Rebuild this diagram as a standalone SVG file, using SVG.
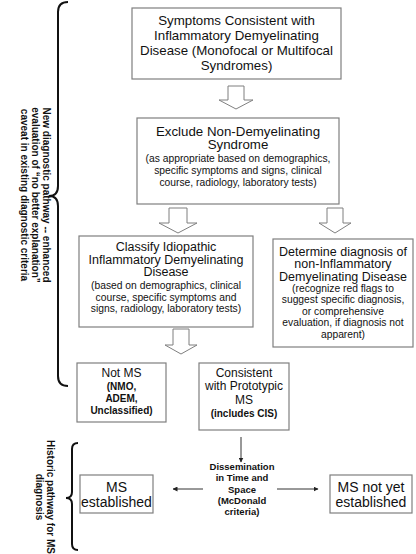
<svg xmlns="http://www.w3.org/2000/svg" width="416" height="554" viewBox="0 0 416 554">
<defs>
<marker id="ah" viewBox="0 0 10 10" refX="9" refY="5" markerWidth="5" markerHeight="5" orient="auto" markerUnits="userSpaceOnUse"><path d="M0,0 L10,5 L0,10 z" fill="#222"/></marker>
</defs>
<style>
text{font-family:"Liberation Sans",Arial,sans-serif;fill:#111;text-anchor:middle}
.box{fill:#fff;stroke:#7f7f7f;stroke-width:1.2}
.hol{fill:#fff;stroke:#7f7f7f;stroke-width:1}
.t13{font-size:13.3px}
.t125{font-size:12.5px}
.t12{font-size:12px}
.t14{font-size:14px}
.s10{font-size:10.3px}
.b10{font-size:10px;font-weight:bold}
.b95{font-size:9.5px;font-weight:bold}
.brace{fill:none;stroke:#111;stroke-width:2}
.thin{stroke:#333;stroke-width:1;fill:none}
</style>
<rect width="416" height="554" fill="#fff"/>
<g id="side-labels">
<path class="brace" d="M68,2 Q58,2 58,12 L58,186 Q58,196 49,196 Q58,196 58,206 L58,376 Q58,386 68,386"/>
<g transform="translate(0,195)">
<text class="b10" transform="translate(43,0) rotate(90)">New diagnostic pathway -- enhanced</text>
<text class="b10" transform="translate(32,0) rotate(90)">evaluation of “no better explanation”</text>
<text class="b10" transform="translate(21,0) rotate(90)">caveat in existing diagnostic criteria</text>
</g>
<path class="brace" d="M78,443 Q72,443 72,449 L72,492 Q72,498 66,498 Q72,498 72,504 L72,544 Q72,550 78,550"/>
<g transform="translate(0,497)">
<text class="b10" transform="translate(46.5,0) rotate(90)">Historic pathway for MS</text>
<text class="b10" transform="translate(35.5,0) rotate(90)">diagnosis</text>
</g>
</g>
<g id="connectors">
<polygon class="hol" points="228,86 244,86 244,100 253,100 236,109 219,100 228,100"/>
<polygon class="hol" points="169,208 187,208 187,223 197,223 178,233 159,223 169,223"/>
<polygon class="hol" points="327,208 343,208 343,223 351,223 335,233 319,223 327,223"/>
<polygon class="hol" points="173,329 189,329 189,345 197,345 181,354 165,345 173,345"/>
<line class="thin" x1="241" y1="437" x2="241" y2="462" marker-end="url(#ah)"/>
<line class="thin" x1="203" y1="489" x2="173" y2="489" marker-end="url(#ah)"/>
<line class="thin" x1="277" y1="489" x2="318" y2="489" marker-end="url(#ah)"/>
</g>
<g id="symptoms">
<rect class="box" x="132" y="8" width="209" height="71"/>
<text class="t13" x="236.5" y="24.5">Symptoms Consistent with</text>
<text class="t13" x="236.5" y="39.5">Inflammatory Demyelinating</text>
<text class="t13" x="236.5" y="54.5">Disease (Monofocal or Multifocal</text>
<text class="t13" x="236.5" y="69.5">Syndromes)</text>
</g>
<g id="exclude">
<rect class="box" x="137" y="118" width="202" height="86"/>
<text class="t13" x="238" y="135.5">Exclude Non-Demyelinating</text>
<text class="t13" x="238" y="149">Syndrome</text>
<text class="s10" x="238" y="162">(as appropriate based on demographics,</text>
<text class="s10" x="238" y="174">specific symptoms and signs, clinical</text>
<text class="s10" x="238" y="186">course, radiology, laboratory tests)</text>
</g>
<g id="classify">
<rect class="box" x="79" y="236" width="174" height="91"/>
<text class="t125" x="166" y="251">Classify Idiopathic</text>
<text class="t125" x="166" y="263.5">Inflammatory Demyelinating</text>
<text class="t125" x="166" y="276">Disease</text>
<text class="s10" x="166" y="289">(based on demographics, clinical</text>
<text class="s10" x="166" y="300.5">course, specific symptoms and</text>
<text class="s10" x="166" y="312">signs, radiology, laboratory tests)</text>
</g>
<g id="determine">
<rect class="box" x="273" y="239" width="140" height="108"/>
<text class="t125" x="343" y="255.5">Determine diagnosis of</text>
<text class="t125" x="343" y="268">non-Inflammatory</text>
<text class="t125" x="343" y="280.5">Demyelinating Disease</text>
<text class="s10" x="343" y="291.5">(recognize red flags to</text>
<text class="s10" x="343" y="303">suggest specific diagnosis,</text>
<text class="s10" x="343" y="314.5">or comprehensive</text>
<text class="s10" x="343" y="326">evaluation, if diagnosis not</text>
<text class="s10" x="343" y="337.5">apparent)</text>
</g>
<g id="notms">
<rect class="box" x="77" y="363" width="89" height="59"/>
<text class="t12" x="121.5" y="377">Not MS</text>
<text class="b10" x="121.5" y="389.5">(NMO,</text>
<text class="b10" x="121.5" y="401.5">ADEM,</text>
<text class="b10" x="121.5" y="413.5">Unclassified)</text>
</g>
<g id="consistent">
<rect class="box" x="199" y="363" width="90" height="67"/>
<text class="t12" x="244" y="377">Consistent</text>
<text class="t12" x="244" y="390">with Prototypic</text>
<text class="t12" x="244" y="403.5">MS</text>
<text class="b10" x="244" y="416.5">(includes CIS)</text>
</g>
<g id="dissemination">
<text class="b95" x="242" y="470">Dissemination</text>
<text class="b95" x="242" y="481.3">in Time and</text>
<text class="b95" x="242" y="492.6">Space</text>
<text class="b95" x="242" y="503.9">(McDonald</text>
<text class="b95" x="242" y="515.2">criteria)</text>
</g>
<g id="ms-established">
<rect class="box" x="80" y="475" width="73" height="38"/>
<text class="t14" x="116.5" y="492">MS</text>
<text class="t14" x="116.5" y="506.5">established</text>
</g>
<g id="ms-not-yet">
<rect class="box" x="330" y="475" width="82" height="38"/>
<text class="t14" x="371" y="492">MS not yet</text>
<text class="t14" x="371" y="506.5">established</text>
</g>
</svg>
